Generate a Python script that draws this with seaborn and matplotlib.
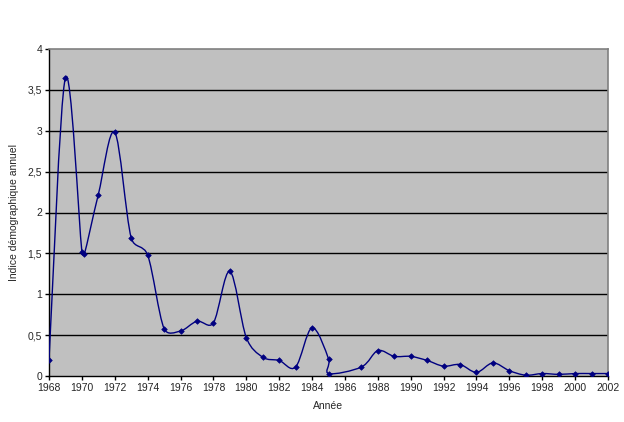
import numpy as np
import pandas as pd
import matplotlib
matplotlib.use("Agg")
import matplotlib.pyplot as plt
from matplotlib.path import Path
from matplotlib.patches import PathPatch
import seaborn as sns

# values (two readings sit very close at 1970 and 1985)
years = [1968, 1969, 1970, 1970.15, 1971, 1972, 1973, 1974, 1975, 1976,
         1977, 1978, 1979, 1980, 1981, 1982, 1983, 1984, 1985, 1985.02,
         1987, 1988, 1989, 1990, 1991, 1992, 1993, 1994, 1995, 1996,
         1997, 1998, 1999, 2000, 2001, 2002]
indice = [0.20, 3.65, 1.52, 1.49, 2.22, 2.98, 1.69, 1.48, 0.58, 0.55,
          0.67, 0.65, 1.28, 0.47, 0.23, 0.19, 0.11, 0.59, 0.21, 0.03,
          0.11, 0.31, 0.24, 0.24, 0.19, 0.12, 0.14, 0.045, 0.16, 0.065,
          0.01, 0.03, 0.02, 0.03, 0.03, 0.03]

x_ticks = list(range(1968, 2003, 2))
y_ticks = [0, 0.5, 1, 1.5, 2, 2.5, 3, 3.5, 4]
y_labels = ["0", "0,5", "1", "1,5", "2", "2,5", "3", "3,5", "4"]

df = pd.DataFrame({"annee": years, "indice": indice})

sns.set_style("white")
plt.rcParams['font.family'] = ['Liberation Sans', 'DejaVu Sans']

NAVY = "#000080"

fig = plt.figure(figsize=(6.24, 4.22), dpi=100)
ax = fig.add_axes([49 / 624, 46 / 422, 559 / 624, 327 / 422])
ax.set_facecolor("#C0C0C0")
ax.set_xlim(1968, 2002)
ax.set_ylim(0, 4)

# smoothed line like Excel's: cubic Bezier segments through every point,
# tension shortened where neighbouring points are very close on screen
pts = df[["annee", "indice"]].to_numpy()
scale = np.array([559 / 34, 327 / 4])


def dist(a, b):
    return np.hypot(*((b - a) * scale))


verts = [tuple(pts[0])]
codes = [Path.MOVETO]
n = len(pts)
for i in range(n - 1):
    p0 = pts[max(i - 1, 0)]
    p1 = pts[i]
    p2 = pts[i + 1]
    p3 = pts[min(i + 2, n - 1)]
    d12 = dist(p1, p2)
    d02 = dist(p0, p2)
    d13 = dist(p1, p3)
    f1 = min(1 / 6, 0.5 * d12 / d02) if d02 > 0 else 0
    f2 = min(1 / 6, 0.5 * d12 / d13) if d13 > 0 else 0
    c1 = p1 + (p2 - p0) * f1
    c2 = p2 - (p3 - p1) * f2
    verts += [tuple(c1), tuple(c2), tuple(p2)]
    codes += [Path.CURVE4] * 3
ax.add_patch(PathPatch(Path(verts, codes), facecolor="none", edgecolor=NAVY,
                       lw=1.0, zorder=3))

sns.scatterplot(data=df, x="annee", y="indice", marker="D", s=8, color=NAVY,
                edgecolor=NAVY, linewidth=0.5, ax=ax, zorder=4, legend=False)

ax.set_xticks(x_ticks)
ax.set_xticklabels([str(t) for t in x_ticks], fontsize=7.5)
ax.set_yticks(y_ticks)
ax.set_yticklabels(y_labels, fontsize=7.5)
for yv in y_ticks[1:-1]:
    ax.axhline(yv, color="black", lw=1.0, zorder=1)

ax.tick_params(axis="both", direction="out", length=3, width=1, color="black",
               pad=2, bottom=True, left=True)
for side in ["left", "bottom"]:
    ax.spines[side].set_color("black")
    ax.spines[side].set_linewidth(1)
for side in ["top", "right"]:
    ax.spines[side].set_color("#808080")
    ax.spines[side].set_linewidth(1.2)

ax.set_xlabel("Année", fontsize=7.5, labelpad=6)
ax.set_ylabel("Indice démographique annuel", fontsize=7.5, labelpad=6)

fig.savefig("out.png", dpi=100)
